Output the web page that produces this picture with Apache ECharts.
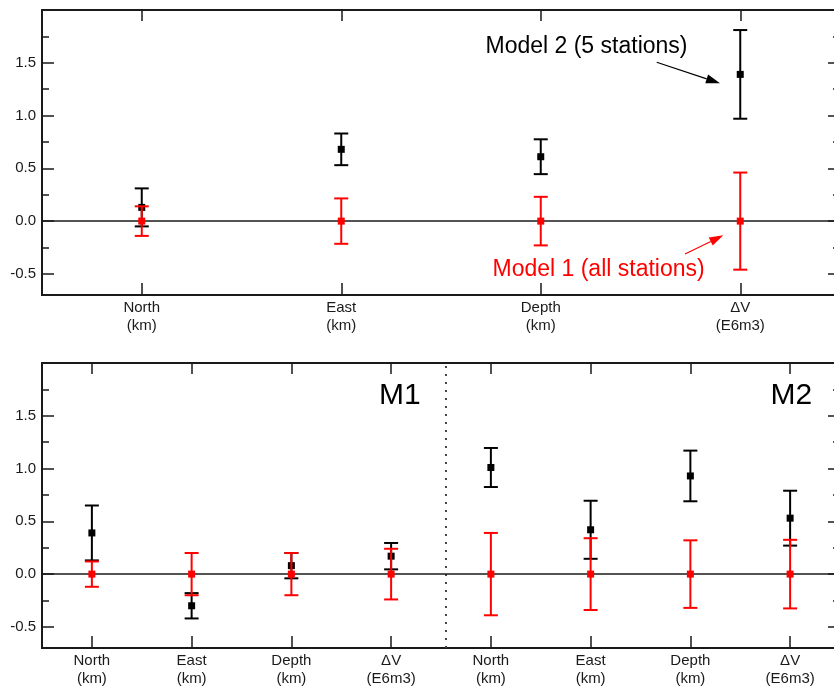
<!DOCTYPE html>
<html>
<head>
<meta charset="utf-8">
<script src="https://cdn.jsdelivr.net/npm/echarts@6/dist/echarts.min.js"></script>
<style>
  html, body { margin: 0; padding: 0; background: #fff; }
  #chart { width: 834px; height: 689px; }
</style>
</head>
<body>
<div id="chart"></div>
<script>
// Parameter categories
const topCategories = ['North\n(km)', 'East\n(km)', 'Depth\n(km)', 'ΔV\n(E6m3)'];
const bottomCategories = ['North\n(km)', 'East\n(km)', 'Depth\n(km)', 'ΔV\n(E6m3)',
                          'North\n(km)', 'East\n(km)', 'Depth\n(km)', 'ΔV\n(E6m3)'];

// Upper panel: Model 2 (5 stations) offsets and errors, Model 1 (all stations) errors
const topModel2 = [0.13, 0.68, 0.61, 1.39];
const topModel2Err = [0.18, 0.15, 0.165, 0.42];
const topModel1 = [0, 0, 0, 0];
const topModel1Err = [0.14, 0.215, 0.23, 0.46];

// Lower panel: M1 block then M2 block
const bottomModel2 = [0.39, -0.30, 0.08, 0.17, 1.01, 0.42, 0.93, 0.53];
const bottomModel2Err = [0.26, 0.12, 0.12, 0.125, 0.185, 0.275, 0.24, 0.26];
const bottomModel1 = [0, 0, 0, 0, 0, 0, 0, 0];
const bottomModel1Err = [0.12, 0.20, 0.20, 0.24, 0.39, 0.34, 0.32, 0.325];

// Axis range and tick values
const yMin = -0.7, yMax = 2.0;
const majorTicks = [-0.5, 0, 0.5, 1.0, 1.5];
const minorTicks = [-0.25, 0.25, 0.75, 1.25, 1.75];
const dividerAt = 3.55;   // position of the M1 | M2 separator (category units)

const FONT = '"Liberation Sans", Arial, sans-serif';
const INK = '#1a1a1a';
const RED = '#ff0000';

const chart = echarts.init(document.getElementById('chart'));

function errorBar(color) {
  return function (params, api) {
    const x = api.value(0), v = api.value(1), e = api.value(2);
    const pt = api.coord([x, v + e]);
    const pb = api.coord([x, v - e]);
    const pm = api.coord([x, v]);
    const hw = 7, ms = 7;
    const st = { stroke: color, lineWidth: 2, fill: null };
    return {
      type: 'group',
      children: [
        { type: 'line', shape: { x1: pt[0], y1: pt[1], x2: pb[0], y2: pb[1] }, style: st },
        { type: 'line', shape: { x1: pt[0] - hw, y1: pt[1], x2: pt[0] + hw, y2: pt[1] }, style: st },
        { type: 'line', shape: { x1: pb[0] - hw, y1: pb[1], x2: pb[0] + hw, y2: pb[1] }, style: st },
        { type: 'rect', shape: { x: pm[0] - ms / 2, y: pm[1] - ms / 2, width: ms, height: ms },
          style: { fill: color, stroke: null } }
      ]
    };
  };
}

function toData(vals, errs) {
  return vals.map((v, i) => [i, v, errs[i]]);
}

function yAxes(gridIndex) {
  const base = {
    type: 'value', gridIndex, min: yMin, max: yMax,
    splitLine: { show: false }, axisLine: { show: false, onZero: false }
  };
  return [
    Object.assign({}, base, {
      position: 'left',
      axisTick: { show: true, inside: true, length: 12, customValues: majorTicks, lineStyle: { color: INK, width: 1.5 } },
      axisLabel: { customValues: majorTicks, formatter: v => v.toFixed(1), fontSize: 15,
                   fontFamily: FONT, color: INK, margin: 6 }
    }),
    Object.assign({}, base, {
      position: 'left',
      axisTick: { show: true, inside: true, length: 7, customValues: minorTicks, lineStyle: { color: INK, width: 1.5 } },
      axisLabel: { show: false }
    }),
    Object.assign({}, base, {
      position: 'right',
      axisTick: { show: true, inside: true, length: 12, customValues: majorTicks, lineStyle: { color: INK, width: 1.5 } },
      axisLabel: { show: false }
    }),
    Object.assign({}, base, {
      position: 'right',
      axisTick: { show: true, inside: true, length: 7, customValues: minorTicks, lineStyle: { color: INK, width: 1.5 } },
      axisLabel: { show: false }
    })
  ];
}

function xAxes(gridIndex, cats) {
  return [
    {
      type: 'category', gridIndex, data: cats, position: 'bottom',
      axisLine: { show: false, onZero: false },
      axisTick: { show: true, inside: true, length: 12, alignWithLabel: true, interval: 0, lineStyle: { color: INK, width: 1.5 } },
      axisLabel: { interval: 0, fontSize: 15, fontFamily: FONT, color: INK, lineHeight: 18, margin: 4 }
    },
    {
      type: 'category', gridIndex, data: cats, position: 'top',
      axisLine: { show: false, onZero: false },
      axisTick: { show: true, inside: true, length: 11, alignWithLabel: true, interval: 0, lineStyle: { color: INK, width: 1.5 } },
      axisLabel: { show: false }
    }
  ];
}

const zeroLine = {
  silent: true, symbol: 'none', label: { show: false },
  lineStyle: { color: INK, width: 1.5, type: 'solid' },
  data: [{ yAxis: 0 }]
};

function arrow(x1, y1, x2, y2, color) {
  const len = 14, half = 4.5;
  const dx = x2 - x1, dy = y2 - y1, d = Math.hypot(dx, dy);
  const ux = dx / d, uy = dy / d;
  const bx = x2 - ux * len, by = y2 - uy * len;
  return [
    { type: 'line', shape: { x1, y1, x2: bx, y2: by }, style: { stroke: color, lineWidth: 1.2 }, z: 20 },
    { type: 'polygon', shape: { points: [[x2, y2], [bx - uy * half, by + ux * half], [bx + uy * half, by - ux * half]] },
      style: { fill: color }, z: 20 }
  ];
}

const option = {
  backgroundColor: '#fff',
  animation: false,
  grid: [
    { left: 42, top: 10, width: 798, height: 285, show: true, borderColor: INK, borderWidth: 2,
      outerBoundsMode: 'none', containLabel: false },
    { left: 42, top: 363, width: 798, height: 285, show: true, borderColor: INK, borderWidth: 2,
      outerBoundsMode: 'none', containLabel: false }
  ],
  xAxis: [
    ...xAxes(0, topCategories),
    ...xAxes(1, bottomCategories),
    { type: 'value', gridIndex: 1, min: -0.5, max: bottomCategories.length - 0.5, show: false,
      axisLine: { onZero: false } }
  ],
  yAxis: [...yAxes(0), ...yAxes(1)],
  series: [
    {
      type: 'custom', xAxisIndex: 0, yAxisIndex: 0, z: 5,
      renderItem: errorBar('#000'), encode: { x: 0, y: 1 },
      data: toData(topModel2, topModel2Err)
    },
    {
      type: 'custom', xAxisIndex: 0, yAxisIndex: 0, z: 6,
      renderItem: errorBar(RED), encode: { x: 0, y: 1 },
      data: toData(topModel1, topModel1Err),
      markLine: zeroLine
    },
    {
      type: 'custom', xAxisIndex: 2, yAxisIndex: 4, z: 5,
      renderItem: errorBar('#000'), encode: { x: 0, y: 1 },
      data: toData(bottomModel2, bottomModel2Err)
    },
    {
      type: 'custom', xAxisIndex: 2, yAxisIndex: 4, z: 6,
      renderItem: errorBar(RED), encode: { x: 0, y: 1 },
      data: toData(bottomModel1, bottomModel1Err),
      markLine: zeroLine
    },
    {
      type: 'line', xAxisIndex: 4, yAxisIndex: 4, z: 3, silent: true,
      symbol: 'none',
      lineStyle: { color: '#444', width: 2, type: [2, 6] },
      data: [[dividerAt, yMin], [dividerAt, yMax]]
    }
  ],
  graphic: [
    { type: 'text', x: 485.5, y: 47, z: 20,
      style: { text: 'Model 2 (5 stations)', font: '23px ' + FONT, fill: '#000', verticalAlign: 'middle' } },
    { type: 'text', x: 492.5, y: 270, z: 20,
      style: { text: 'Model 1 (all stations)', font: '23px ' + FONT, fill: RED, verticalAlign: 'middle' } },
    ...arrow(656.7, 62.3, 720, 83.3, '#000'),
    ...arrow(685, 254, 723.3, 235.3, RED),
    { type: 'text', x: 379, y: 396, z: 20,
      style: { text: 'M1', font: '30px ' + FONT, fill: '#000', verticalAlign: 'middle' } },
    { type: 'text', x: 770.5, y: 396, z: 20,
      style: { text: 'M2', font: '30px ' + FONT, fill: '#000', verticalAlign: 'middle' } }
  ]
};

chart.setOption(option);
</script>
</body>
</html>
